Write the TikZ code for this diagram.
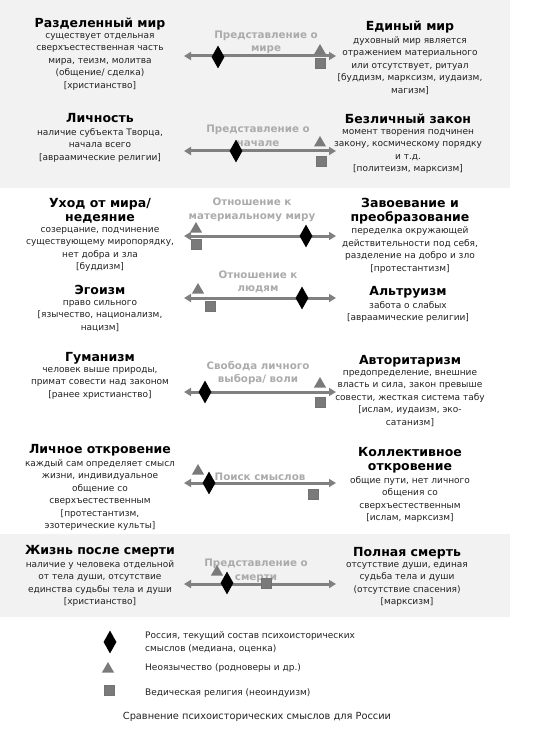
\documentclass[tikz,border=0pt]{standalone}
\usepackage{fontspec}
\setmainfont{DejaVu Sans}
\usetikzlibrary{positioning,arrows.meta,shapes.geometric}
\definecolor{bandgray}{HTML}{F2F2F2}
\definecolor{axisgray}{HTML}{808080}
\definecolor{labelgray}{HTML}{ABABAB}
\definecolor{markgray}{HTML}{7A7A7A}
\definecolor{inkgray}{HTML}{222222}
\tikzset{
    psyband/.style={fill=bandgray, draw=none},
    psypole/.style={font=\bfseries\fontsize{12.5}{14}\selectfont, align=center, inner sep=0pt,
        execute at begin node=\strut, execute at end node=\strut},
    psynote/.style={font=\fontsize{9}{12.5}\selectfont, align=center, inner sep=0pt, text=inkgray,
        execute at begin node=\strut, execute at end node=\strut},
    psylabel/.style={font=\bfseries\fontsize{10.3}{13.5}\selectfont, align=center, inner sep=0pt, text=labelgray},
    psyaxis/.style={draw=axisgray, line width=3pt, {Triangle[length=7pt,width=8pt]}-{Triangle[length=7pt,width=8pt]}},
    psyrus/.style={diamond, fill=black, minimum width=13pt, minimum height=23pt, inner sep=0pt},
    psyneo/.style={regular polygon, regular polygon sides=3, fill=markgray, minimum size=14pt, inner sep=0pt},
    psyved/.style={rectangle, fill=markgray, draw=black!55, line width=0.4pt, minimum size=10.5pt, inner sep=0pt},
    psykey/.style={font=\fontsize{9}{12.5}\selectfont, align=left, anchor=west, inner sep=0pt, text=inkgray}
}

\begin{document}
\begin{tikzpicture}[x=1pt, y=-1pt, node distance=1pt]
    \useasboundingbox (0,0) rectangle (542,738);
    \fill[psyband] (0,0) rectangle (510,188);
    \fill[psyband] (0,534) rectangle (510,617);

    % world
    \node[psypole] (worldL) at (100,25) {Разделенный мир};
    \node[psynote, below=of worldL] (worldLn) {существует отдельная\\сверхъестественная часть\\мира, теизм, молитва\\(общение/ сделка)\\{[христианство]}};
    \node[psypole] (worldR) at (410,28) {Единый мир};
    \node[psynote, below=of worldR] (worldRn) {духовный мир является\\отражением материального\\или отсутствует, ритуал\\{[буддизм, марксизм, иудаизм,}\\магизм]};
    \node[psylabel] (worldQ) at (266,42.5) {Представление о\\мире};
    \coordinate (worldA) at (184,56);
    \coordinate (worldB) at (336,56);
    \draw[psyaxis] (worldA) -- (worldB);
    \node[psyrus] (worldRu) at (218,57) {};
    \node[psyneo] (worldNeo) at (320,51) {};
    \node[psyved] (worldVed) at (320,63) {};

    % origin
    \node[psypole] (originL) at (100,120) {Личность};
    \node[psynote, below=of originL] (originLn) {наличие субъекта Творца,\\начала всего\\{[авраамические религии]}};
    \node[psypole] (originR) at (408,121) {Безличный закон};
    \node[psynote, below=of originR] (originRn) {момент творения подчинен\\закону, космическому порядку\\и т.д.\\{[политеизм, марксизм]}};
    \node[psylabel] (originQ) at (258,136) {Представление о\\начале};
    \coordinate (originA) at (184,151);
    \coordinate (originB) at (336,151);
    \draw[psyaxis] (originA) -- (originB);
    \node[psyrus] (originRu) at (236,151) {};
    \node[psyneo] (originNeo) at (320,143) {};
    \node[psyved] (originVed) at (321,161) {};

    % matter
    \node[psypole] (matterL) at (100,212) {Уход от мира/\\недеяние};
    \node[psynote, below=of matterL] (matterLn) {созерцание, подчинение\\существующему миропорядку,\\нет добра и зла\\{[буддизм]}};
    \node[psypole] (matterR) at (410,212) {Завоевание и\\преобразование};
    \node[psynote, below=of matterR] (matterRn) {переделка окружающей\\действительности под себя,\\разделение на добро и зло\\{[протестантизм]}};
    \node[psylabel] (matterQ) at (252,210) {Отношение к\\материальному миру};
    \coordinate (matterA) at (184,236);
    \coordinate (matterB) at (336,236);
    \draw[psyaxis] (matterA) -- (matterB);
    \node[psyneo] (matterNeo) at (196,229) {};
    \node[psyved] (matterVed) at (196,244) {};
    \node[psyrus] (matterRu) at (306,236) {};

    % people
    \node[psypole] (peopleL) at (100,292) {Эгоизм};
    \node[psynote, below=of peopleL] (peopleLn) {право сильного\\{[язычество, национализм,}\\нацизм]};
    \node[psypole] (peopleR) at (408,293) {Альтруизм};
    \node[psynote, below=of peopleR] (peopleRn) {забота о слабых\\{[авраамические религии]}};
    \node[psylabel] (peopleQ) at (258,282) {Отношение к\\людям};
    \coordinate (peopleA) at (184,298);
    \coordinate (peopleB) at (336,298);
    \draw[psyaxis] (peopleA) -- (peopleB);
    \node[psyneo] (peopleNeo) at (198,290) {};
    \node[psyved] (peopleVed) at (210,306) {};
    \node[psyrus] (peopleRu) at (302,298) {};

    % will
    \node[psypole] (willL) at (100,359) {Гуманизм};
    \node[psynote, below=of willL] (willLn) {человек выше природы,\\примат совести над законом\\{[ранее христианство]}};
    \node[psypole] (willR) at (410,362) {Авторитаризм};
    \node[psynote, below=of willR] (willRn) {предопределение, внешние\\власть и сила, закон превыше\\совести, жесткая система табу\\{[ислам, иудаизм, эко-}\\сатанизм]};
    \node[psylabel] (willQ) at (258,373) {Свобода личного\\выбора/ воли};
    \coordinate (willA) at (184,392);
    \coordinate (willB) at (336,392);
    \draw[psyaxis] (willA) -- (willB);
    \node[psyrus] (willRu) at (205,392) {};
    \node[psyneo] (willNeo) at (320,384) {};
    \node[psyved] (willVed) at (320,402) {};

    % meaning
    \node[psypole] (meaningL) at (100,451) {Личное откровение};
    \node[psynote, below=of meaningL] (meaningLn) {каждый сам определяет смысл\\жизни, индивидуальное\\общение со\\сверхъестественным\\{[протестантизм,}\\эзотерические культы]};
    \node[psypole] (meaningR) at (410,461) {Коллективное\\откровение};
    \node[psynote, below=of meaningR] (meaningRn) {общие пути, нет личного\\общения со\\сверхъестественным\\{[ислам, марксизм]}};
    \node[psylabel] (meaningQ) at (260,477) {Поиск смыслов};
    \coordinate (meaningA) at (184,483);
    \coordinate (meaningB) at (336,483);
    \draw[psyaxis] (meaningA) -- (meaningB);
    \node[psyneo] (meaningNeo) at (198,471) {};
    \node[psyrus] (meaningRu) at (209,483) {};
    \node[psyved] (meaningVed) at (313,494) {};

    % death
    \node[psypole] (deathL) at (100,552) {Жизнь после смерти};
    \node[psynote, below=of deathL] (deathLn) {наличие у человека отдельной\\от тела души, отсутствие\\единства судьбы тела и души\\{[христианство]}};
    \node[psypole] (deathR) at (407,554) {Полная смерть};
    \node[psynote, below=of deathR] (deathRn) {отсутствие души, единая\\судьба тела и души\\(отсутствие спасения)\\{[марксизм]}};
    \node[psylabel] (deathQ) at (256,571) {Представление о\\смерти};
    \coordinate (deathA) at (184,584);
    \coordinate (deathB) at (336,584);
    \draw[psyaxis] (deathA) -- (deathB);
    \node[psyneo] (deathNeo) at (217,572) {};
    \node[psyrus] (deathRu) at (227,583) {};
    \node[psyved] (deathVed) at (266,583) {};

    % legend
    \node[psyrus] (keyRu) at (110,642) {};
    \node[psykey] (keyRuT) at (145,642) {Россия, текущий состав психоисторических\\смыслов (медиана, оценка)};
    \node[psyneo] (keyNeo) at (108,669) {};
    \node[psykey] (keyNeoT) at (145,668) {Неоязычество (родноверы и др.)};
    \node[psyved] (keyVed) at (109,690) {};
    \node[psykey] (keyVedT) at (145,693) {Ведическая религия (неоиндуизм)};
    \node[font=\fontsize{9.8}{12}\selectfont, text=inkgray] (caption) at (257,717) {Сравнение психоисторических смыслов для России};
\end{tikzpicture}
\end{document}
